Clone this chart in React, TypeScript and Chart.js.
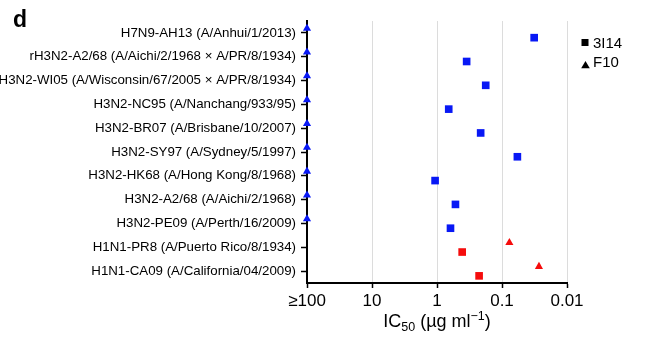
import React, { useEffect, useRef } from 'react';
import { Chart, registerables } from 'chart.js';

Chart.register(...registerables);

const strains = [
  'H7N9-AH13 (A/Anhui/1/2013)',
  'rH3N2-A2/68 (A/Aichi/2/1968 × A/PR/8/1934)',
  'H3N2-WI05 (A/Wisconsin/67/2005 × A/PR/8/1934)',
  'H3N2-NC95 (A/Nanchang/933/95)',
  'H3N2-BR07 (A/Brisbane/10/2007)',
  'H3N2-SY97 (A/Sydney/5/1997)',
  'H3N2-HK68 (A/Hong Kong/8/1968)',
  'H3N2-A2/68 (A/Aichi/2/1968)',
  'H3N2-PE09 (A/Perth/16/2009)',
  'H1N1-PR8 (A/Puerto Rico/8/1934)',
  'H1N1-CA09 (A/California/04/2009)',
];

const groups = ['H7', 'H3', 'H3', 'H3', 'H3', 'H3', 'H3', 'H3', 'H3', 'H1', 'H1'];

// IC50 values (µg/ml); 100 means ">=100"
const ic50_3I14 = [0.032, 0.35, 0.178, 0.66, 0.213, 0.058, 1.07, 0.52, 0.62, 0.41, 0.225];
const ic50_F10 = [100, 100, 100, 100, 100, 100, 100, 100, 100, 0.077, 0.027];

const xTickValues = [100, 10, 1, 0.1, 0.01];
const xTickLabels = ['≥100', '10', '1', '0.1', '0.01'];

const seriesNames = ['3I14', 'F10'];

const BLUE = 'rgb(8, 24, 245)';
const RED = 'rgb(245, 12, 12)';
const FONT = '"Liberation Sans", Arial, Helvetica, sans-serif';

const colorFor = (g: string) => (g === 'H1' ? RED : BLUE);

const decorPlugin = {
  id: 'decor',
  afterDraw(chart: any) {
    const ctx = chart.ctx as CanvasRenderingContext2D;
    const area = chart.chartArea;
    ctx.save();
    ctx.fillStyle = '#000';
    ctx.textBaseline = 'alphabetic';
    ctx.textAlign = 'left';
    // panel letter
    ctx.font = `bold 23px ${FONT}`;
    ctx.fillText('d', 13, 27.3);

    // legend
    const lx = 581.5;
    ctx.font = `15px ${FONT}`;
    ctx.textBaseline = 'middle';
    ctx.fillRect(lx, 39, 7, 7);
    ctx.fillText(seriesNames[0], lx + 11.5, 43.5);
    ctx.beginPath();
    ctx.moveTo(lx + 4, 61);
    ctx.lineTo(lx + 8.3, 68.3);
    ctx.lineTo(lx - 0.3, 68.3);
    ctx.closePath();
    ctx.fill();
    ctx.fillText(seriesNames[1], lx + 11.5, 62.5);

    // axis title with sub/superscripts
    const big = `18px ${FONT}`;
    const small = `12.5px ${FONT}`;
    const parts: [string, string, number][] = [
      ['IC', big, 0],
      ['50', small, 4],
      [' (µg ml', big, 0],
      ['−1', small, -7],
      [')', big, 0],
    ];
    let total = 0;
    for (const [t, f] of parts) {
      ctx.font = f;
      total += ctx.measureText(t).width;
    }
    let x = (area.left + area.right) / 2 - total / 2;
    const base = 327;
    ctx.textBaseline = 'alphabetic';
    for (const [t, f, dy] of parts) {
      ctx.font = f;
      ctx.fillText(t, x, base + dy);
      x += ctx.measureText(t).width;
    }
    ctx.restore();
  },
};

export default function App() {
  const ref = useRef<HTMLCanvasElement>(null);

  useEffect(() => {
    if (!ref.current) return;
    const sqOffset = 0.2;
    const triOffset = -0.19;
    const chart = new Chart(ref.current, {
      type: 'scatter',
      data: {
        datasets: [
          {
            label: seriesNames[0],
            data: ic50_3I14.map((v, i) => ({ x: v, y: i + sqOffset })),
            pointStyle: 'rect',
            pointRadius: 5.4,
            pointHoverRadius: 5.4,
            pointBorderWidth: 0,
            pointBackgroundColor: groups.map(colorFor),
            pointBorderColor: groups.map(colorFor),
            clip: false,
          },
          {
            label: seriesNames[1],
            data: ic50_F10.map((v, i) => ({ x: v, y: i + triOffset })),
            pointStyle: 'triangle',
            pointRadius: 4.7,
            pointHoverRadius: 4.7,
            pointBorderWidth: 0,
            pointBackgroundColor: groups.map(colorFor),
            pointBorderColor: groups.map(colorFor),
            clip: false,
          },
        ],
      },
      options: {
        animation: false,
        responsive: false,
        maintainAspectRatio: false,
        events: [],
        layout: { padding: { top: 21, right: 86, left: 0, bottom: 0 } },
        plugins: {
          legend: { display: false },
          tooltip: { enabled: false },
          title: { display: false },
        },
        scales: {
          x: {
            type: 'logarithmic',
            reverse: true,
            min: 0.01,
            max: 100,
            afterBuildTicks: (scale: any) => {
              scale.ticks = xTickValues.map((v) => ({ value: v }));
            },
            afterFit: (scale: any) => {
              scale.height = 54;
            },
            ticks: {
              autoSkip: false,
              maxRotation: 0,
              padding: 3,
              color: '#000',
              font: { family: FONT, size: 17 },
              callback: (value: any) => {
                const idx = xTickValues.findIndex((t) => Math.abs(t - Number(value)) < 1e-9 * Math.max(1, t));
                return idx >= 0 ? xTickLabels[idx] : '';
              },
            },
            grid: {
              color: '#dcdcdc',
              lineWidth: 1,
              tickColor: '#000',
              tickLength: 5,
              tickWidth: 1.5,
              drawOnChartArea: true,
            },
            border: { color: '#000', width: 2 },
          },
          y: {
            type: 'linear',
            reverse: true,
            min: -0.5,
            max: strains.length - 0.5,
            afterBuildTicks: (scale: any) => {
              scale.ticks = strains.map((_, i) => ({ value: i }));
            },
            afterFit: (scale: any) => {
              scale.width = 307;
            },
            ticks: {
              autoSkip: false,
              padding: 5,
              color: '#000',
              font: { family: FONT, size: 13.3 },
              callback: (value: any) => strains[Math.round(Number(value))] ?? '',
            },
            grid: {
              drawOnChartArea: false,
              tickColor: '#000',
              tickLength: 6,
              tickWidth: 1.5,
            },
            border: { color: '#000', width: 2 },
          },
        },
      },
      plugins: [decorPlugin],
    } as any);
    return () => chart.destroy();
  }, []);

  return (
    <div style={{ position: 'fixed', left: 0, top: 0, width: 653, height: 337, background: '#fff' }}>
      <canvas ref={ref} width={653} height={337} style={{ width: 653, height: 337, display: 'block' }} />
    </div>
  );
}
